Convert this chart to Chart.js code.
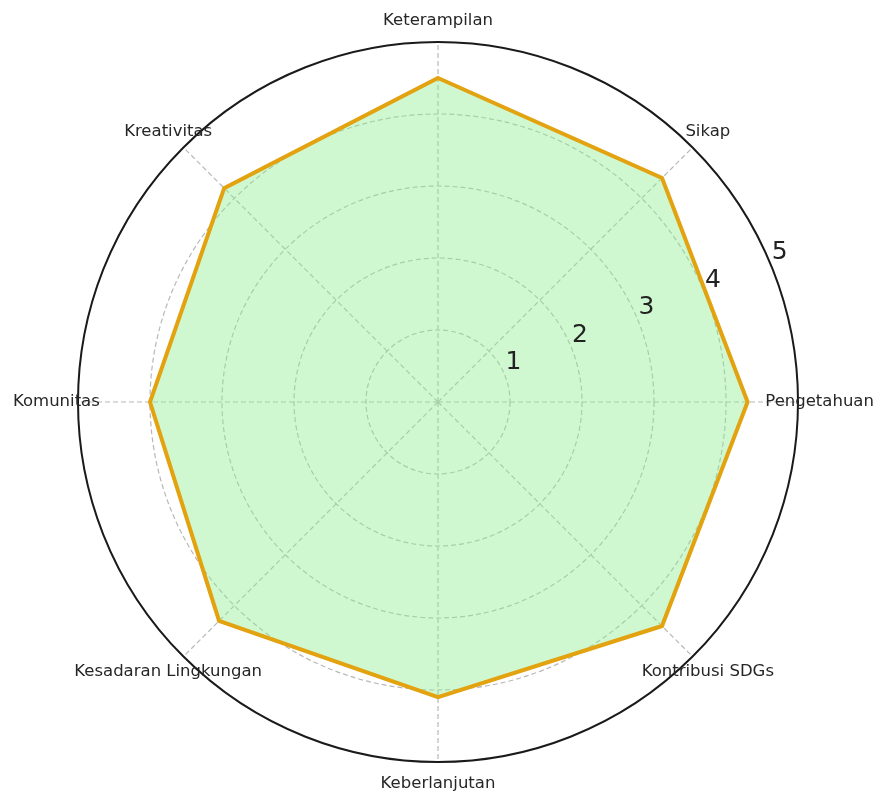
<!DOCTYPE html>
<html>
<head>
<meta charset="utf-8">
<script src="https://cdn.jsdelivr.net/npm/chart.js@4.4.1/dist/chart.umd.min.js"></script>
<style>
  html, body { margin: 0; padding: 0; background: #ffffff; }
  #wrap { width: 880px; height: 795px; position: relative; }
</style>
</head>
<body>
<div id="wrap"><canvas id="c"></canvas></div>
<script>
// Categories in Chart.js order (top first, clockwise)
const categories = ["Keterampilan", "Sikap", "Pengetahuan", "Kontribusi SDGs", "Keberlanjutan", "Kesadaran Lingkungan", "Komunitas", "Kreativitas"];
const scores = [4.5, 4.4, 4.3, 4.4, 4.1, 4.3, 4.0, 4.2];
const tickValues = [1, 2, 3, 4, 5];
const tickLabels = ["1", "2", "3", "4", "5"];
const rMax = 5;

const labelPlugin = {
  id: 'customLabels',
  afterDatasetsDraw(chart) {
    const scale = chart.scales.r;
    const ctx = chart.ctx;
    ctx.save();
    ctx.font = '16.5px "DejaVu Sans"';
    ctx.fillStyle = '#262626';
    ctx.textAlign = 'center';
    ctx.textBaseline = 'middle';
    const labelDist = scale.getDistanceFromCenterForValue(5.3);
    categories.forEach((name, i) => {
      const p = scale.getPointPosition(i, labelDist);
      ctx.fillText(name, p.x, p.y);
    });
    ctx.font = '25px "DejaVu Sans"';
    ctx.fillStyle = '#222222';
    ctx.textBaseline = 'alphabetic';
    const ang = -22.5 * Math.PI / 180;
    tickValues.forEach((v, i) => {
      const d = scale.getDistanceFromCenterForValue(v);
      const x = scale.xCenter + d * Math.cos(ang) + 9;
      const y = scale.yCenter + d * Math.sin(ang) - 5;
      ctx.fillText(tickLabels[i], x, y);
    });
    ctx.restore();
  }
};

new Chart(document.getElementById('c'), {
  type: 'radar',
  data: {
    labels: categories,
    datasets: [{
      data: scores,
      borderColor: '#E3A20F',
      borderWidth: 4,
      backgroundColor: 'rgba(144,238,144,0.42)',
      fill: true,
      pointRadius: 0,
      pointHoverRadius: 0,
      tension: 0
    }]
  },
  options: {
    responsive: true,
    maintainAspectRatio: false,
    animation: false,
    layout: { padding: { left: 0, right: 4, top: 42, bottom: 33 } },
    plugins: { legend: { display: false }, tooltip: { enabled: false } },
    scales: {
      r: {
        min: 0,
        max: rMax,
        ticks: { display: false, stepSize: 1 },
        pointLabels: { display: false },
        grid: {
          circular: true,
          color: (c) => (c.tick && c.tick.value === rMax) ? '#1a1a1a' : '#b8b8b8',
          lineWidth: (c) => (c.tick && c.tick.value === rMax) ? 2 : 1.2
        },
        border: {
          dash: (c) => (c.tick && c.tick.value === rMax) ? [] : [5, 3]
        },
        angleLines: {
          color: '#b8b8b8',
          lineWidth: 1.2,
          borderDash: [5, 3]
        }
      }
    }
  },
  plugins: [labelPlugin]
});
</script>
</body>
</html>
